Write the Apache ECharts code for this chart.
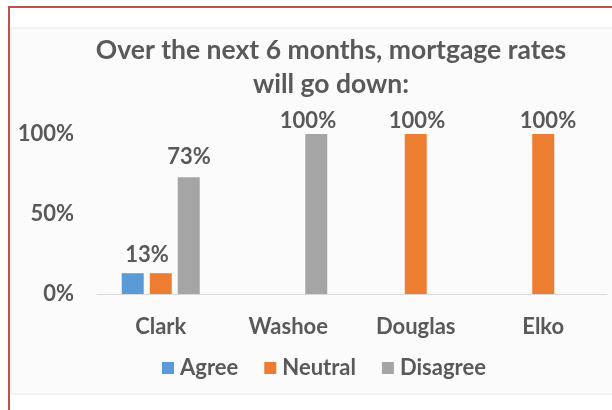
<!DOCTYPE html>
<html>
<head>
<meta charset="utf-8">
<style>
  html, body { margin: 0; padding: 0; background: #ffffff; }
  #chart { width: 612px; height: 410px; }
</style>
<script src="https://cdn.jsdelivr.net/npm/echarts@6/dist/echarts.min.js"></script>
</head>
<body>
<div id="chart"></div>
<script>
// Survey: "Over the next 6 months, mortgage rates will go down:"
const categories = ['Clark', 'Washoe', 'Douglas', 'Elko'];
const seriesNames = ['Agree', 'Neutral', 'Disagree'];
const agree = [0.13, 0, 0, 0];
const neutral = [0.13, 0, 1.00, 1.00];
const disagree = [0.73, 1.00, 0, 0];
const yTicks = [0, 0.5, 1];
const titleText = 'Over the next 6 months, mortgage rates\nwill go down:';

const colors = ['#5B9BD5', '#ED7D31', '#A5A5A5'];
const textColor = '#595959';
const fontFamily = 'Lato, "Open Sans", sans-serif';
const BAR_W = 22;
const BAR_GAP = 6;

const pct = v => Math.round(v * 100) + '%';

const labelFont = {
  color: textColor,
  fontFamily: fontFamily,
  fontWeight: 'bold',
  fontSize: 22
};

const valueLists = [agree, neutral, disagree];

const barSeries = seriesNames.map((name, k) => ({
  name: name,
  type: 'bar',
  barWidth: BAR_W,
  barGap: (BAR_GAP / BAR_W * 100) + '%',
  itemStyle: { color: colors[k] },
  data: valueLists[k]
}));

const chart = echarts.init(document.getElementById('chart'), null, { renderer: 'canvas' });
chart.setOption({
  animation: false,
  backgroundColor: '#ffffff',
  graphic: [
    { id: 'frame', type: 'rect', z: -10, shape: { x: 9, y: 7, width: 700, height: 500 },
      style: { fill: 'none', stroke: '#C0504D', lineWidth: 2 } },
    { id: 'panel', type: 'rect', z: -9, shape: { x: 11, y: 28, width: 700, height: 366 },
      style: { fill: '#fbfbfb', stroke: '#e8e8e8', lineWidth: 1 } },
    { id: 'title', type: 'text', z: 10, x: 331, y: 33,
      style: {
        text: titleText,
        align: 'center',
        verticalAlign: 'top',
        fill: textColor,
        font: 'bold 26.5px ' + fontFamily,
        lineHeight: 34
      } }
  ],
  legend: {
    data: seriesNames,
    left: 157,
    top: 352,
    itemWidth: 12,
    itemHeight: 12,
    itemGap: 26,
    icon: 'rect',
    textStyle: {
      color: textColor,
      fontFamily: fontFamily,
      fontWeight: 'bold',
      fontSize: 22,
      padding: [0, 0, 0, 1]
    }
  },
  grid: { left: 97, right: 5, top: 134, bottom: 116, containLabel: false },
  xAxis: {
    type: 'category',
    data: categories,
    axisLine: { lineStyle: { color: '#d9d9d9', width: 1 } },
    axisTick: { show: false },
    axisLabel: Object.assign({ margin: 22 }, labelFont)
  },
  yAxis: {
    type: 'value',
    min: yTicks[0],
    max: yTicks[yTicks.length - 1],
    interval: yTicks[1] - yTicks[0],
    splitLine: { show: false },
    axisLine: { show: false },
    axisTick: { show: false },
    axisLabel: Object.assign({ margin: 23, formatter: v => pct(v) }, labelFont)
  },
  series: barSeries
});

// Value labels above the bars, positioned through the grid's own scales.
// Clark's agree and neutral share a single label placed between the two bars.
const labelGraphics = [];
valueLists.forEach((vals, k) => {
  vals.forEach((v, i) => {
    if (v === 0) return;
    if (i === 0 && k === 1) return;
    let dx = 0, dy = 0;
    if (i === 0 && k === 0) { dx = 14; dy = -4; }
    if (i === 0 && k === 2) { dx = 0; dy = -6; }
    if (i === 1 && k === 2) { dx = -8; dy = 1; }
    if (i === 2 && k === 1) { dx = 1; dy = 1; }
    if (i === 3 && k === 1) { dx = 5; dy = 1; }
    const pt = chart.convertToPixel({ gridIndex: 0 }, [i, v]);
    labelGraphics.push({
      id: 'val-' + k + '-' + i,
      type: 'text',
      z: 10,
      x: Math.round(pt[0] + (k - 1) * (BAR_W + BAR_GAP) + dx),
      y: Math.round(pt[1] - 14 + dy),
      style: {
        text: pct(v),
        align: 'center',
        verticalAlign: 'middle',
        fill: textColor,
        font: 'bold 22px ' + fontFamily
      }
    });
  });
});
chart.setOption({ graphic: labelGraphics });
</script>
</body>
</html>
